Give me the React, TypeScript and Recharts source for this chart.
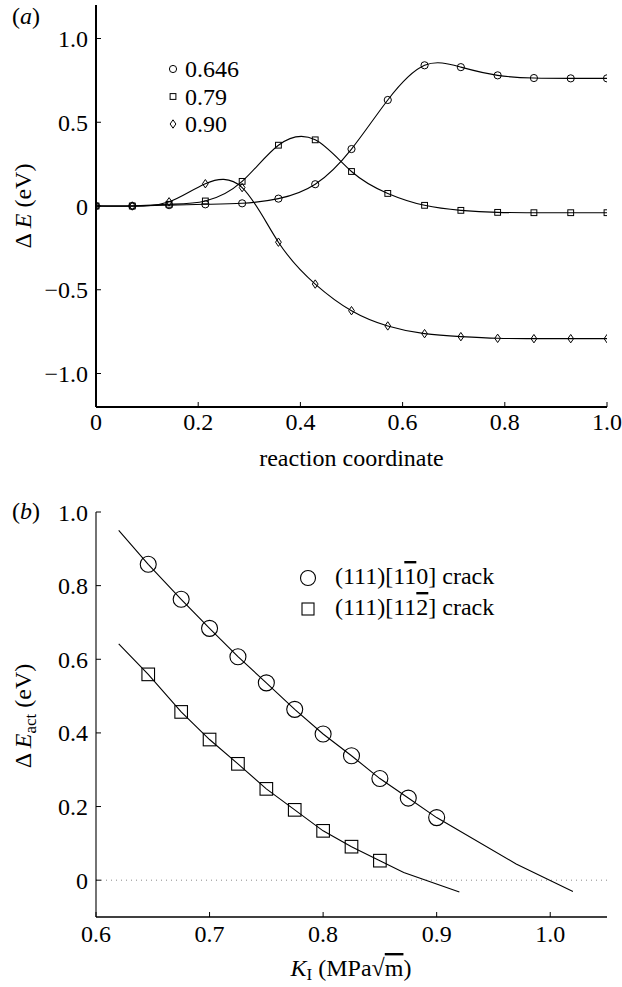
import React from "react";
import {
  ComposedChart,
  Line,
  Scatter,
  XAxis,
  YAxis,
  ReferenceLine,
  Customized,
} from "recharts";

const FONT = '"Liberation Serif", "Times New Roman", serif';

// panel (a): energy along the reaction coordinate
const reactionCoord = [0, 0.071, 0.143, 0.214, 0.286, 0.357, 0.429, 0.5, 0.571, 0.643, 0.714, 0.786, 0.857, 0.929, 1.0];
const dE0646 = [0, 0, 0.005, 0.01, 0.016, 0.044, 0.13, 0.34, 0.633, 0.84, 0.829, 0.78, 0.764, 0.762, 0.762];
const dE079 = [0, 0, 0.01, 0.03, 0.147, 0.363, 0.395, 0.206, 0.075, 0.004, -0.026, -0.038, -0.04, -0.04, -0.04];
const dE090 = [0, 0, 0.025, 0.133, 0.11, -0.216, -0.466, -0.625, -0.716, -0.762, -0.78, -0.79, -0.792, -0.792, -0.792];
const legendA = ["0.646", "0.79", "0.90"];
const ticksAx = [0, 0.2, 0.4, 0.6, 0.8, 1.0];
const ticksAy = [-1.0, -0.5, 0, 0.5, 1.0];

// panel (b): activation energy vs K_I
const kCircle = [0.646, 0.675, 0.7, 0.725, 0.75, 0.775, 0.8, 0.825, 0.85, 0.875, 0.9];
const eCircle = [0.858, 0.763, 0.684, 0.607, 0.536, 0.464, 0.397, 0.338, 0.276, 0.223, 0.17];
const kSquare = [0.646, 0.675, 0.7, 0.725, 0.75, 0.775, 0.8, 0.825, 0.85];
const eSquare = [0.559, 0.457, 0.382, 0.316, 0.248, 0.191, 0.134, 0.091, 0.053];
const fitCircleK = [0.62, 0.646, 0.675, 0.7, 0.725, 0.75, 0.775, 0.8, 0.825, 0.85, 0.875, 0.9, 0.97, 1.02];
const fitCircleE = [0.95, 0.858, 0.763, 0.684, 0.607, 0.536, 0.464, 0.397, 0.338, 0.276, 0.223, 0.17, 0.044, -0.031];
const fitSquareK = [0.62, 0.646, 0.675, 0.7, 0.725, 0.75, 0.775, 0.8, 0.825, 0.85, 0.871, 0.92];
const fitSquareE = [0.642, 0.559, 0.457, 0.382, 0.316, 0.248, 0.191, 0.134, 0.091, 0.053, 0.021, -0.032];
const ticksBx = [0.6, 0.7, 0.8, 0.9, 1.0];
const ticksBy = [0, 0.2, 0.4, 0.6, 0.8, 1.0];

const tableA = reactionCoord.map((x, i) => ({ x, a: dE0646[i], b: dE079[i], c: dE090[i] }));
const pairs = (ks: number[], es: number[]) => ks.map((k, i) => ({ k, e: es[i] }));

const fmt = (v: number) => (v === 0 ? "0" : v < 0 ? "\u2212" + Math.abs(v).toFixed(1) : v.toFixed(1));
const tickStyle = { fill: "#000", fontSize: 24, fontFamily: FONT };

const smallCircle = (cx: number, cy: number, key?: any) => (
  <circle key={key} cx={cx} cy={cy} r={3.6} fill="none" stroke="#000" strokeWidth={1} />
);
const smallSquare = (cx: number, cy: number, key?: any) => (
  <rect key={key} x={cx - 2.9} y={cy - 2.9} width={5.8} height={5.8} fill="none" stroke="#000" strokeWidth={1} />
);
const smallDiamond = (cx: number, cy: number, key?: any) => (
  <path key={key} d={`M${cx},${cy - 4.2}L${cx + 2.9},${cy}L${cx},${cy + 4.2}L${cx - 2.9},${cy}Z`} fill="none" stroke="#000" strokeWidth={1} />
);
const markersA = [smallCircle, smallSquare, smallDiamond];

const dotFn = (m: (cx: number, cy: number, key?: any) => any) => (p: any) =>
  p.cx == null ? <g key={p.key} /> : m(p.cx, p.cy, p.key ?? p.index);

function OverlayA() {
  return (
    <g fontFamily={FONT} fill="#000">
      <text x={12} y={24} fontSize={24}>
        (<tspan fontStyle="italic">a</tspan>)
      </text>
      <text transform="translate(31,206) rotate(-90)" textAnchor="middle" fontSize={24}>
        Δ <tspan fontStyle="italic">E</tspan> (eV)
      </text>
      <text x={351.5} y={466} textAnchor="middle" fontSize={24}>
        reaction coordinate
      </text>
      {legendA.map((t, i) => (
        <g key={t}>
          {markersA[i](173, 69 + i * 27.5)}
          <text x={185} y={77 + i * 27.5} fontSize={24}>
            {t}
          </text>
        </g>
      ))}
    </g>
  );
}

function OverlayB() {
  return (
    <g fontFamily={FONT} fill="#000">
      <text x={12} y={39} fontSize={24}>
        (<tspan fontStyle="italic">b</tspan>)
      </text>
      <text transform="translate(31,236) rotate(-90)" textAnchor="middle" fontSize={24}>
        Δ <tspan fontStyle="italic">E</tspan>
        <tspan fontSize={17} dy={5}>act</tspan>
        <tspan dy={-5}> (eV)</tspan>
      </text>
      <text x={351} y={496} textAnchor="middle" fontSize={24}>
        <tspan fontStyle="italic">K</tspan>
        <tspan fontSize={17} dy={4}>I</tspan>
        <tspan dy={-4}> (MPa√</tspan>
        <tspan textDecoration="overline">m</tspan>
        <tspan>)</tspan>
      </text>
      <circle cx={308} cy={98} r={7.5} fill="none" stroke="#000" strokeWidth={1.1} />
      <rect x={302} y={123} width={12} height={12} fill="none" stroke="#000" strokeWidth={1.1} />
      <text x={335} y={104} fontSize={24}>
        (111)[1<tspan textDecoration="overline">1</tspan>0] crack
      </text>
      <text x={335} y={135} fontSize={24}>
        (111)[11<tspan textDecoration="overline">2</tspan>] crack
      </text>
    </g>
  );
}

const bigCircle = (p: any) => <circle cx={p.cx} cy={p.cy} r={8} fill="none" stroke="#000" strokeWidth={1.1} />;
const bigSquare = (p: any) => (
  <rect x={p.cx - 6.3} y={p.cy - 6.3} width={12.6} height={12.6} fill="none" stroke="#000" strokeWidth={1.1} />
);

export default function App() {
  return (
    <div style={{ position: "absolute", left: 0, top: 0, width: 622, height: 987, background: "#fff" }}>
      <div style={{ position: "absolute", left: 0, top: 0 }}>
        <ComposedChart width={622} height={480} data={tableA} margin={{ top: 5, right: 15, bottom: 0, left: 0 }}>
          <XAxis
            dataKey="x"
            type="number"
            domain={[0, 1]}
            ticks={ticksAx}
            tickFormatter={fmt}
            tick={tickStyle}
            tickSize={-5}
            tickMargin={11}
            height={73}
            axisLine={{ stroke: "#000", strokeWidth: 2 }}
            tickLine={{ stroke: "#000" }}
            allowDataOverflow
          />
          <XAxis
            xAxisId="top"
            orientation="top"
            dataKey="x"
            type="number"
            domain={[0, 1]}
            ticks={ticksAx.slice(1, 5)}
            tick={false}
            tickSize={-5}
            height={0}
            axisLine={{ stroke: "#000", strokeWidth: 1.2 }}
            tickLine={{ stroke: "#000" }}
            allowDataOverflow
          />
          <YAxis
            type="number"
            domain={[-1.2, 1.2]}
            ticks={ticksAy}
            tickFormatter={fmt}
            tick={tickStyle}
            tickSize={-5}
            tickMargin={13}
            width={96}
            axisLine={{ stroke: "#000", strokeWidth: 2 }}
            tickLine={{ stroke: "#000" }}
            allowDataOverflow
          />
          <YAxis
            yAxisId="right"
            orientation="right"
            type="number"
            domain={[-1.2, 1.2]}
            ticks={ticksAy}
            tick={false}
            tickSize={-5}
            width={0}
            axisLine={{ stroke: "#000", strokeWidth: 1.2 }}
            tickLine={{ stroke: "#000" }}
            allowDataOverflow
          />
          <Line xAxisId="top" yAxisId="right" dataKey="a" stroke="none" dot={false} isAnimationActive={false} />
          <Line dataKey="a" type="natural" stroke="#000" strokeWidth={1.1} dot={dotFn(smallCircle)} isAnimationActive={false} />
          <Line dataKey="b" type="natural" stroke="#000" strokeWidth={1.1} dot={dotFn(smallSquare)} isAnimationActive={false} />
          <Line dataKey="c" type="natural" stroke="#000" strokeWidth={1.1} dot={dotFn(smallDiamond)} isAnimationActive={false} />
          <Customized component={<OverlayA />} />
        </ComposedChart>
      </div>
      <div style={{ position: "absolute", left: 0, top: 480 }}>
        <ComposedChart width={622} height={507} margin={{ top: 32, right: 15, bottom: 0, left: 0 }}>
          <XAxis
            dataKey="k"
            type="number"
            domain={[0.6, 1.05]}
            ticks={ticksBx}
            tickFormatter={fmt}
            tick={tickStyle}
            tickSize={-5}
            tickMargin={13}
            height={70}
            axisLine={{ stroke: "#000", strokeWidth: 1.3 }}
            tickLine={{ stroke: "#000" }}
            allowDataOverflow
          />
          <YAxis
            dataKey="e"
            type="number"
            domain={[-0.1, 1.0]}
            ticks={ticksBy}
            tickFormatter={fmt}
            tick={tickStyle}
            tickSize={-5}
            tickMargin={13}
            width={96}
            axisLine={{ stroke: "#000", strokeWidth: 1.1 }}
            tickLine={{ stroke: "#000" }}
            allowDataOverflow
          />
          <ReferenceLine y={0} stroke="#888" strokeWidth={1} strokeDasharray="1 4" />
          <Line data={pairs(fitCircleK, fitCircleE)} dataKey="e" type="linear" stroke="#000" strokeWidth={1.1} dot={false} isAnimationActive={false} />
          <Line data={pairs(fitSquareK, fitSquareE)} dataKey="e" type="linear" stroke="#000" strokeWidth={1.1} dot={false} isAnimationActive={false} />
          <Scatter data={pairs(kCircle, eCircle)} dataKey="e" shape={bigCircle} isAnimationActive={false} />
          <Scatter data={pairs(kSquare, eSquare)} dataKey="e" shape={bigSquare} isAnimationActive={false} />
          <Customized component={<OverlayB />} />
        </ComposedChart>
      </div>
    </div>
  );
}
